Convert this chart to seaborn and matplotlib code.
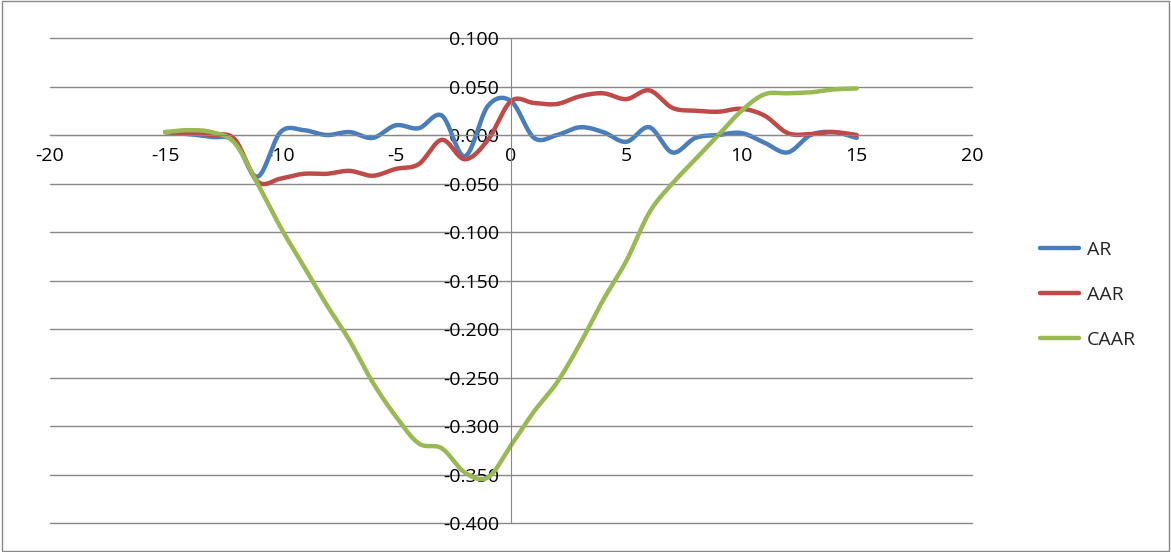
import numpy as np
import matplotlib
matplotlib.use("Agg")
import matplotlib.pyplot as plt
import seaborn as sns
import pandas as pd

days = list(range(-15, 16))
ar = [0.003, 0.001, -0.002, -0.006, -0.043, 0.003, 0.005, 0.000, 0.003, -0.003, 0.010, 0.007, 0.020, -0.022, 0.030,
      0.035, -0.003, 0.000, 0.008, 0.003, -0.007, 0.008, -0.018, -0.003, 0.000, 0.002, -0.008, -0.018, 0.000, 0.003, -0.003]
aar = [0.003, 0.002, 0.000, -0.004, -0.048, -0.045, -0.040, -0.040, -0.037, -0.042, -0.035, -0.030, -0.005, -0.025, -0.005,
       0.035, 0.033, 0.032, 0.040, 0.043, 0.037, 0.046, 0.028, 0.025, 0.024, 0.027, 0.020, 0.002, 0.001, 0.003, 0.000]
caar = [0.003, 0.005, 0.003, -0.008, -0.050, -0.095, -0.135, -0.175, -0.212, -0.255, -0.290, -0.318, -0.323, -0.348, -0.353,
        -0.320, -0.285, -0.255, -0.215, -0.170, -0.130, -0.080, -0.050, -0.025, 0.000, 0.025, 0.042, 0.043, 0.044, 0.047, 0.048]

def smooth(x, y, n=20):
    x = np.asarray(x, float); y = np.asarray(y, float)
    px = np.concatenate([[2*x[0]-x[1]], x, [2*x[-1]-x[-2]]])
    py = np.concatenate([[2*y[0]-y[1]], y, [2*y[-1]-y[-2]]])
    xs, ys = [], []
    t = np.linspace(0, 1, n, endpoint=False)
    for i in range(1, len(px)-2):
        p0, p1, p2, p3 = py[i-1], py[i], py[i+1], py[i+2]
        yy = 0.5*((2*p1) + (-p0+p2)*t + (2*p0-5*p1+4*p2-p3)*t**2 + (-p0+3*p1-3*p2+p3)*t**3)
        xs.append(px[i] + (px[i+1]-px[i])*t); ys.append(yy)
    xs.append([x[-1]]); ys.append([y[-1]])
    return np.concatenate(xs), np.concatenate(ys)

sns.set_style("white")
plt.rcParams['font.family'] = ['Open Sans', 'DejaVu Sans']
plt.rcParams['axes.unicode_minus'] = False
fig = plt.figure(figsize=(11.71, 5.52), dpi=100)
ax = fig.add_axes([50/1171, 1-523/552, 922/1171, 485/552])

frames = []
for name, vals in [("AR", ar), ("AAR", aar), ("CAAR", caar)]:
    sx, sy = smooth(days, vals)
    frames.append(pd.DataFrame({"x": sx, "y": sy, "s": name}))
df = pd.concat(frames)
sns.lineplot(data=df, x="x", y="y", hue="s", palette=["#4a7ebb", "#be4b48", "#98b954"],
             linewidth=3.2, ax=ax, sort=False, estimator=None)

ax.set_xlim(-20, 20)
ax.set_ylim(-0.4, 0.1)
ax.set_xticks(range(-20, 21, 5))
yt = np.arange(-0.4, 0.1001, 0.05)
ax.set_yticks(yt)
ax.set_yticklabels([f"{v:.3f}".replace("-0.000", "0.000") for v in yt])
for v in yt:
    ax.axhline(v, color="#888888", linewidth=1, zorder=0, clip_on=False)
for s in ["top", "right"]:
    ax.spines[s].set_visible(False)
ax.spines["left"].set_position(("data", 0))
ax.spines["bottom"].set_position(("data", 0))
for s in ["left", "bottom"]:
    ax.spines[s].set_color("#888888")
ax.tick_params(axis="both", labelsize=14, length=5, color="#888888", direction="out", labelcolor="black")
ax.set_xlabel(""); ax.set_ylabel("")
ax.legend(loc="center left", bbox_to_anchor=(1.055, 0.47), frameon=False, fontsize=14,
          handlelength=2.0, handletextpad=0.4, labelspacing=1.4)
fig.patches.append(plt.Rectangle((0.002, 0.002), 0.996, 0.996, transform=fig.transFigure,
                                 fill=False, edgecolor="#888888", linewidth=1))
fig.savefig("out.png", dpi=100)
